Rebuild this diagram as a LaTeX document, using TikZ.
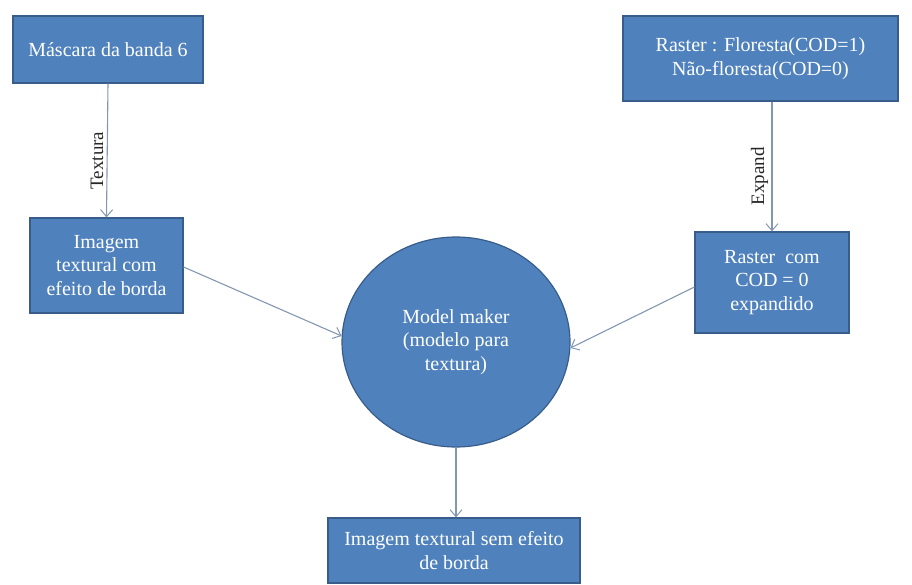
\documentclass[tikz,border=0pt]{standalone}
\usepackage{fontspec}
\setmainfont{Liberation Serif}
\usetikzlibrary{arrows.meta,shapes.geometric}
\definecolor{boxfill}{HTML}{4F81BD}
\definecolor{boxline}{HTML}{385D8A}
\definecolor{arrowc}{HTML}{8497B0}
\tikzset{
  box/.style={draw=boxline, line width=1.2pt, fill=boxfill, text=white, align=center, inner sep=0pt,
    font=\fontsize{20}{23.5}\selectfont},
  conn/.style={draw=arrowc, line width=1.1pt, -{Straight Barb[length=7pt,width=12pt,line width=1pt]}},
  lbl/.style={rotate=90, font=\fontsize{19}{22}\selectfont, text=black!85}
}
\begin{document}
\begin{tikzpicture}[x=1pt,y=-1pt]
\useasboundingbox (0,0) rectangle (912,585);
\node[box, minimum width=190pt, minimum height=67pt] (mask) at (108,49.5) {Máscara da banda 6};
\node[box, minimum width=153pt, minimum height=95pt] (img) at (106.5,265.5) {Imagem\\textural com\\efeito de borda};
\node[box, minimum width=275pt, minimum height=85pt] (rast) at (760.5,58.5) {Raster : Floresta(COD=1)\\Não-floresta(COD=0)};
\node[box, minimum width=154pt, minimum height=101pt] (rexp) at (772,282.5) {Raster\ \ com\\COD = 0\\expandido};
\node[box, ellipse, minimum width=228pt, minimum height=210pt] (model) at (456,342) {Model maker\\(modelo para\\textura)};
\node[box, minimum width=252pt, minimum height=65pt] (out) at (454,550.5) {Imagem textural sem efeito\\de borda};
\draw[conn] (mask.south) -- node[lbl, left=10pt, anchor=south] {Textura} (img.north);
\draw[conn] (rast.south -| rexp.north) -- node[lbl, left=10pt, anchor=south] {Expand} (rexp.north);
\draw[conn] (img.east |- 0,267) -- (model.180-3);
\draw[conn] (rexp.west |- 0,287) -- (model.-3);
\draw[conn] (model.south) -- (out.north -| model.south);
\end{tikzpicture}
\end{document}
